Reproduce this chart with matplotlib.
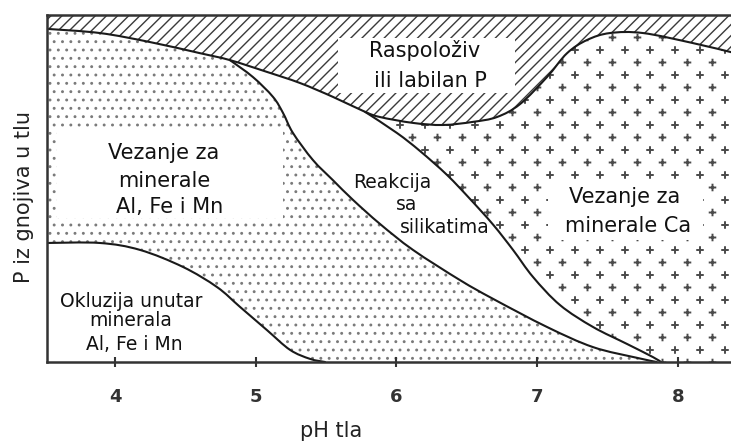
import numpy as np
import matplotlib
matplotlib.use("Agg")
import matplotlib.pyplot as plt
import matplotlib.hatch as mhatch
from matplotlib.path import Path
from matplotlib.patches import PathPatch, Rectangle

# ---------------- data ----------------
ph_ticks = [4, 5, 6, 7, 8]
ph_min, ph_max = 3.517, 8.378
p_min, p_max = 0, 100

# lower edge of the "available / labile P" band
avail_x = [3.517, 3.893, 4.249, 4.604, 4.817, 5.080, 5.315, 5.549, 5.777, 5.883,
           6.118, 6.331, 6.544, 6.715, 6.878, 7.070, 7.213, 7.355, 7.518, 7.753,
           8.108, 8.378]
avail_y = [96.0, 94.8, 92.2, 89.0, 87.0, 83.6, 80.4, 76.4, 72.1, 70.6,
           68.9, 68.3, 69.2, 70.6, 74.3, 82.1, 89.0, 92.8, 94.8, 94.8,
           91.9, 89.3]

# boundary between Al/Fe/Mn binding and silicate reaction
alfe_x = [4.817, 4.981, 5.123, 5.194, 5.265, 5.407, 5.549, 5.692, 5.883, 6.118,
          6.452, 6.687, 7.070, 7.397, 7.710, 7.850]
alfe_y = [87.0, 82.1, 76.4, 71.8, 66.0, 58.2, 52.4, 46.7, 39.8, 32.3,
          23.6, 18.2, 10.1, 4.3, 1.2, 0.0]

# boundary between silicate reaction and Ca binding
ca_x = [5.777, 6.004, 6.168, 6.360, 6.523, 6.687, 6.829, 6.971, 7.163, 7.397,
        7.639, 7.824, 7.880]
ca_y = [72.1, 66.0, 60.8, 53.9, 47.0, 39.6, 32.3, 24.5, 16.4, 10.1,
        5.2, 1.4, 0.0]

# occlusion boundary
occl_x = [3.517, 3.893, 4.178, 4.483, 4.725, 4.888, 5.080, 5.244, 5.386, 5.493]
occl_y = [34.3, 34.3, 32.3, 27.4, 21.6, 15.9, 9.2, 3.5, 0.9, 0.0]


# ---------------- custom "plus" hatch (texture only) ----------------
class PlusGrid(mhatch.HatchPatternBase):
    def __init__(self, hatch, density):
        n = hatch.count('*')
        self.ncols = 4 * n
        self.nrows = 8 * n
        if n == 0:
            self.num_vertices = 0
            return
        cnt = 0
        for r in range(self.nrows + 1):
            cnt += (self.ncols + 1) if r % 2 == 0 else self.ncols
        self.num_vertices = cnt * 4

    def set_vertices_and_codes(self, vertices, codes):
        h = 0.028
        base = np.array([[-h, 0.0], [h, 0.0], [0.0, -h], [0.0, h]])
        bcodes = [Path.MOVETO, Path.LINETO, Path.MOVETO, Path.LINETO]
        vs, cs = [], []
        for r in range(self.nrows + 1):
            yy = r / self.nrows
            if r % 2 == 0:
                xs = np.arange(self.ncols + 1) / self.ncols
            else:
                xs = (np.arange(self.ncols) + 0.5) / self.ncols
            for xx in xs:
                vs.append(base + [xx, yy])
                cs.extend(bcodes)
        vertices[:] = np.concatenate(vs)
        codes[:] = cs


mhatch._hatch_types = [t for t in mhatch._hatch_types if t is not mhatch.Stars] + [PlusGrid]


# ---------------- smooth drawing helpers (Catmull-Rom -> Bezier) ----------------
def bezier_segments(xs, ys):
    P = np.column_stack([xs, ys]).astype(float)
    n = len(P)
    segs = []
    for i in range(n - 1):
        p0 = P[i - 1] if i > 0 else P[i]
        p1, p2 = P[i], P[i + 1]
        p3 = P[i + 2] if i + 2 < n else P[i + 1]
        segs.append((p1, p1 + (p2 - p0) / 6.0, p2 - (p3 - p1) / 6.0, p2))
    return segs


def reverse(segs):
    return [(p2, c2, c1, p1) for (p1, c1, c2, p2) in segs[::-1]]


class PB:
    def __init__(self, start):
        self.v = [tuple(start)]
        self.c = [Path.MOVETO]

    def curves(self, segs):
        for (_, c1, c2, p2) in segs:
            self.v += [tuple(c1), tuple(c2), tuple(p2)]
            self.c += [Path.CURVE4] * 3
        return self

    def line(self, pt):
        self.v.append(tuple(pt))
        self.c.append(Path.LINETO)
        return self

    def path(self, close=False):
        v, c = list(self.v), list(self.c)
        if close:
            v.append(v[0])
            c.append(Path.CLOSEPOLY)
        return Path(v, c)


plt.rcParams['font.family'] = ['DejaVu Sans']

fig = plt.figure(figsize=(7.31, 4.41), dpi=100)
ax = fig.add_axes([47 / 731, 79 / 441, 684 / 731, 347 / 441])
ax.set_xlim(ph_min, ph_max)
ax.set_ylim(p_min, p_max)

line_col = '#1a1a1a'

sA = bezier_segments(avail_x, avail_y)
sB = bezier_segments(alfe_x, alfe_y)
sC = bezier_segments(ca_x, ca_y)
sD = bezier_segments(occl_x, occl_y)
j_idx = avail_x.index(alfe_x[0])
k_idx = avail_x.index(ca_x[0])

# available band (diagonal hatch)
band = PB((avail_x[0], avail_y[0])).curves(sA).line((ph_max, p_max)).line((ph_min, p_max)).path(close=True)
with plt.rc_context({'hatch.linewidth': 1.0}):
    ax.add_patch(PathPatch(band, facecolor='white', edgecolor='#3a3a3a',
                           hatch='///', linewidth=0, zorder=1))

# Al/Fe/Mn binding region (dots)
dots = (PB((avail_x[0], avail_y[0])).curves(sA[:j_idx]).curves(sB)
        .line((occl_x[-1], occl_y[-1])).curves(reverse(sD)).path(close=True))
with plt.rc_context({'hatch.linewidth': 0.9}):
    ax.add_patch(PathPatch(dots, facecolor='white', edgecolor='#7a7a7a',
                           hatch='..', linewidth=0, zorder=1))

# Ca binding region (pluses)
plus = (PB((ca_x[0], ca_y[0])).curves(sA[k_idx:]).line((ph_max, p_min))
        .line((ca_x[-1], ca_y[-1])).curves(reverse(sC)).path(close=True))
with plt.rc_context({'hatch.linewidth': 1.4}):
    ax.add_patch(PathPatch(plus, facecolor='white', edgecolor='#4a4a4a',
                           hatch='*', linewidth=0, zorder=1))

# white label backgrounds
for (x0, x1, y0, y1) in [(5.585, 6.843, 77.5, 93.4),
                         (3.588, 5.194, 41.5, 66.6),
                         (7.077, 8.179, 35.2, 52.2)]:
    ax.add_patch(Rectangle((x0, y0), x1 - x0, y1 - y0, facecolor='white',
                           edgecolor='none', zorder=2))

# boundary curves
for segs, x0, y0 in [(sA, avail_x[0], avail_y[0]), (sB, alfe_x[0], alfe_y[0]),
                     (sC, ca_x[0], ca_y[0]), (sD, occl_x[0], occl_y[0])]:
    ax.add_patch(PathPatch(PB((x0, y0)).curves(segs).path(), facecolor='none',
                           edgecolor=line_col, linewidth=1.5, zorder=3,
                           capstyle='round', joinstyle='round'))

# labels
tc = '#111111'
labels = [
    ("Raspoloživ", 6.203, 87.9, 15), ("ili labilan P", 6.239, 79.25, 15),
    ("Vezanje za", 4.348, 58.5, 15), ("minerale", 4.348, 50.4, 15),
    ("Al, Fe i Mn", 4.391, 42.9, 15),
    ("Okluzija unutar", 4.114, 15.85, 13.5), ("minerala", 4.114, 10.4, 13.5),
    ("Al, Fe i Mn", 4.135, 3.46, 13.5),
    ("Reakcija", 5.969, 50.1, 13.5), ("sa", 6.075, 43.8, 13.5),
    ("silikatima", 6.345, 37.2, 13.5),
    ("Vezanje za", 7.621, 45.8, 15), ("minerale Ca", 7.646, 37.5, 15),
]
for s, x, y, fs in labels:
    ax.text(x, y, s, ha='center', va='baseline', fontsize=fs, color=tc, zorder=4)

# axes styling
for side in ['left', 'bottom', 'top']:
    ax.spines[side].set_linewidth(1.8)
    ax.spines[side].set_color('#333333')
    ax.spines[side].set_zorder(5)
ax.spines['right'].set_visible(False)
ax.set_yticks([])
ax.set_xticks(ph_ticks)
ax.set_xticklabels([str(t) for t in ph_ticks], fontweight='bold')
ax.tick_params(axis='x', direction='inout', length=7, width=1.5, color='#333333',
               pad=15, labelsize=13, labelcolor='#333333')

ax.set_xlabel("pH tla", fontsize=15, color='#222222')
ax.xaxis.set_label_coords(0.415, -0.170)
ax.set_ylabel("P iz gnojiva u tlu", fontsize=15, color='#222222')
ax.yaxis.set_label_coords(-0.019, 0.475)

fig.savefig("out.png", dpi=100)
